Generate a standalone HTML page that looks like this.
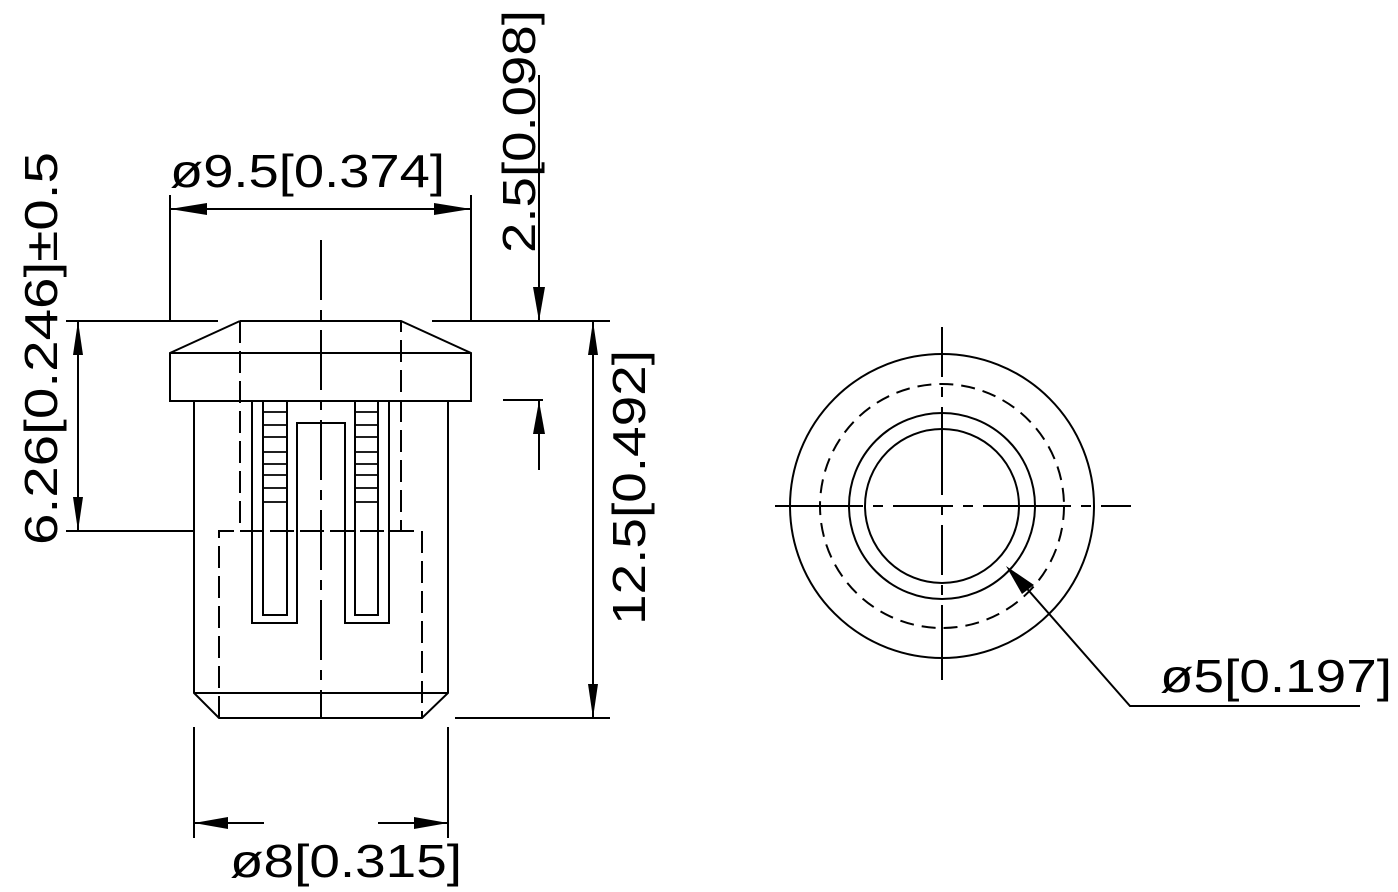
<!DOCTYPE html>
<html><head><meta charset="utf-8"><style>html,body{margin:0;padding:0;background:#fff}svg{display:block}</style></head>
<body>
<svg width="1398" height="892" viewBox="0 0 1398 892" xmlns="http://www.w3.org/2000/svg">
<g stroke="#000" stroke-width="2" fill="none">
<!-- cap -->
<polyline points="240,321 401,321 471,353 471,401 170,401 170,353 240,321"/>
<line x1="170" y1="353" x2="471" y2="353"/>
<!-- body -->
<polyline points="194,401 194,693 219,718 422,718 448,693 448,401"/>
<line x1="194" y1="693" x2="448" y2="693"/>
<!-- slots -->
<polyline points="252,401 252,623 297,623 297,423 345,423 345,623 389,623 389,401"/>
<polyline points="263,401 263,615 287,615 287,401"/>
<polyline points="355,401 355,615 378,615 378,401"/>
<g stroke-width="1.8">
<path d="M263 412H287M263 425H287M263 437H287M263 452H287M263 464H287M263 475H287M263 488H287M263 502H287"/>
<path d="M355 412H378M355 425H378M355 437H378M355 452H378M355 464H378M355 475H378M355 488H378M355 502H378"/>
</g>
<!-- hidden lines -->
<g stroke-dasharray="22,8">
<polyline points="240,321 240,531 401,531 401,321"/>
<polyline points="219,718 219,531 422,531 422,718"/>
</g>
<!-- center line -->
<line x1="321" y1="240" x2="321" y2="718" stroke-dasharray="60,10,10,10"/>
<!-- extension lines -->
<line x1="66" y1="321" x2="218" y2="321"/>
<line x1="432" y1="321" x2="610" y2="321"/>
<line x1="66" y1="531" x2="194" y2="531"/>
<line x1="455" y1="718" x2="610" y2="718"/>
<line x1="170" y1="195" x2="170" y2="321"/>
<line x1="471" y1="195" x2="471" y2="321"/>
<line x1="194" y1="727" x2="194" y2="838"/>
<line x1="448" y1="727" x2="448" y2="838"/>
<line x1="503" y1="400" x2="543" y2="400"/>
<!-- dim lines -->
<line x1="170" y1="209" x2="471" y2="209"/>
<line x1="78" y1="321" x2="78" y2="531"/>
<line x1="593" y1="321" x2="593" y2="718"/>
<line x1="539" y1="75" x2="539" y2="321"/>
<line x1="539" y1="401" x2="539" y2="470"/>
<line x1="194" y1="823" x2="264" y2="823"/>
<line x1="378" y1="823" x2="448" y2="823"/>
</g>
<g fill="#000">
<polygon points="170,209 207,203 207,215"/>
<polygon points="471,209 434,203 434,215"/>
<polygon points="78,321 73,355 83,355"/>
<polygon points="78,531 73,497 83,497"/>
<polygon points="593,321 588,355 598,355"/>
<polygon points="593,718 588,684 598,684"/>
<polygon points="539,321 533,287 545,287"/>
<polygon points="539,401 533,434 545,434"/>
<polygon points="194,823 228,817 228,829"/>
<polygon points="448,823 414,817 414,829"/>
</g>
<!-- circle view -->
<g stroke="#000" stroke-width="2" fill="none">
<circle cx="942" cy="506" r="152"/>
<circle cx="942" cy="506" r="122" stroke-dasharray="14,8"/>
<circle cx="942" cy="506" r="93"/>
<circle cx="942" cy="506" r="77"/>
<line x1="775" y1="506" x2="1131" y2="506" stroke-dasharray="88,10,10,10,60,10,10,10"/>
<line x1="942" y1="327" x2="942" y2="680" stroke-dasharray="50,10,10,10,88,10,10,10"/>
<polyline points="1015,575 1130,706 1360,706"/>
</g>
<polygon points="1006,566 1034,585 1022,594" fill="#000"/>
<!-- text -->
<g font-family="Liberation Sans, sans-serif" font-size="46" fill="#000">
<text x="170" y="187" textLength="275" lengthAdjust="spacingAndGlyphs">ø9.5[0.374]</text>
<text x="230" y="877" textLength="232" lengthAdjust="spacingAndGlyphs">ø8[0.315]</text>
<text x="1160" y="692" textLength="232" lengthAdjust="spacingAndGlyphs">ø5[0.197]</text>
<text transform="translate(57,545) rotate(-90)" textLength="393" lengthAdjust="spacingAndGlyphs">6.26[0.246]±0.5</text>
<text transform="translate(645,625) rotate(-90)" textLength="275" lengthAdjust="spacingAndGlyphs">12.5[0.492]</text>
<text transform="translate(535,253) rotate(-90)" textLength="243" lengthAdjust="spacingAndGlyphs">2.5[0.098]</text>
</g>
</svg>
</body></html>
